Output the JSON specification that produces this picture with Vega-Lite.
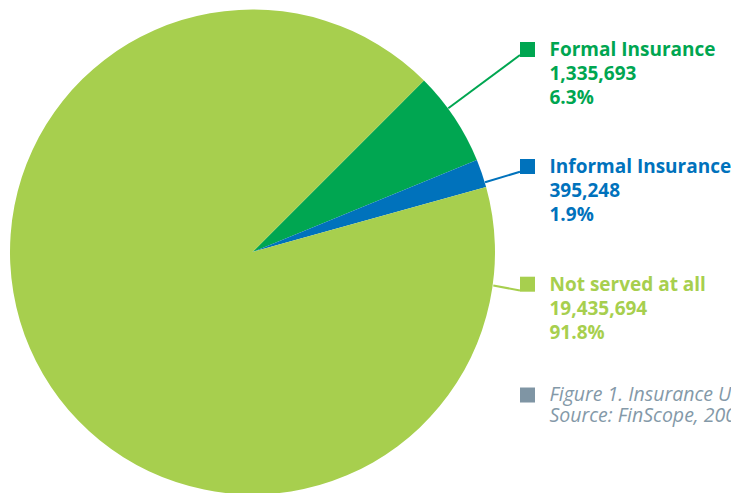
{
  "$schema": "https://vega.github.io/schema/vega-lite/v6.json",
  "width": 731,
  "height": 493,
  "autosize": {"type": "none"},
  "padding": 0,
  "background": "white",
  "config": {"view": {"stroke": null}},
  "datasets": {
    "slices": [
      {"category": "Formal Insurance", "count": 1335693, "share": 0.063},
      {"category": "Informal Insurance", "count": 395248, "share": 0.019},
      {"category": "Not served at all", "count": 19435694, "share": 0.918}
    ],
    "callouts": [
      {"category": "Formal Insurance", "count": 1335693, "share": 0.063, "edgeX": 0.8074, "edgeY": 0.5926, "tipX": 1.1031, "tipY": 0.8124, "keyX": 1.134, "keyY": 0.8351},
      {"category": "Informal Insurance", "count": 395248, "share": 0.019, "edgeX": 0.9588, "edgeY": 0.2874, "tipX": 1.1031, "tipY": 0.3311, "keyX": 1.134, "keyY": 0.3526},
      {"category": "Not served at all", "count": 19435694, "share": 0.918, "edgeX": 0.993, "edgeY": -0.1381, "tipX": 1.1031, "tipY": -0.1588, "keyX": 1.134, "keyY": -0.1328}
    ],
    "note": [
      {"caption": "Figure 1. Insurance Usage\nSource: FinScope, 2009", "keyX": 1.134, "keyY": -0.5897}
    ]
  },
  "encoding": {
    "x": {"type": "quantitative", "scale": {"domain": [-1.0412, 1.9732], "nice": false, "zero": false}, "axis": null},
    "y": {"type": "quantitative", "scale": {"domain": [-0.9938, 1.0392], "nice": false, "zero": false}, "axis": null}
  },
  "layer": [
    {
      "data": {"name": "slices"},
      "mark": {"type": "arc", "radius": 242.5},
      "encoding": {
        "x": {"datum": 0, "type": "quantitative"},
        "y": {"datum": 0, "type": "quantitative"},
        "theta": {"field": "count", "type": "quantitative", "stack": true, "scale": {"range": [0.7854, 7.0686]}},
        "color": {"field": "category", "type": "nominal", "scale": {"domain": ["Formal Insurance", "Informal Insurance", "Not served at all"], "range": ["#00a651", "#0072bc", "#a7cf4e"]}, "legend": null}
      }
    },
    {
      "data": {"name": "callouts"},
      "mark": {"type": "rule", "strokeWidth": 2},
      "encoding": {
        "x": {"field": "edgeX", "type": "quantitative"},
        "y": {"field": "edgeY", "type": "quantitative"},
        "x2": {"field": "tipX"},
        "y2": {"field": "tipY"},
        "color": {"field": "category", "type": "nominal", "legend": null}
      }
    },
    {
      "data": {"name": "callouts"},
      "mark": {"type": "point", "shape": "square", "filled": true, "size": 225, "opacity": 1},
      "encoding": {
        "x": {"field": "keyX", "type": "quantitative"},
        "y": {"field": "keyY", "type": "quantitative"},
        "color": {"field": "category", "type": "nominal", "legend": null}
      }
    },
    {
      "data": {"name": "callouts"},
      "mark": {"type": "text", "align": "left", "baseline": "alphabetic", "dx": 22, "dy": 7, "font": "Open Sans", "fontWeight": "bold", "fontSize": 19},
      "encoding": {
        "x": {"field": "keyX", "type": "quantitative"},
        "y": {"field": "keyY", "type": "quantitative"},
        "text": {"field": "category", "type": "nominal"},
        "color": {"field": "category", "type": "nominal", "legend": null}
      }
    },
    {
      "data": {"name": "callouts"},
      "mark": {"type": "text", "align": "left", "baseline": "alphabetic", "dx": 22, "dy": 31, "font": "Open Sans", "fontWeight": "bold", "fontSize": 19},
      "encoding": {
        "x": {"field": "keyX", "type": "quantitative"},
        "y": {"field": "keyY", "type": "quantitative"},
        "text": {"field": "count", "type": "quantitative", "format": ",d"},
        "color": {"field": "category", "type": "nominal", "legend": null}
      }
    },
    {
      "data": {"name": "callouts"},
      "mark": {"type": "text", "align": "left", "baseline": "alphabetic", "dx": 22, "dy": 55, "font": "Open Sans", "fontWeight": "bold", "fontSize": 19},
      "encoding": {
        "x": {"field": "keyX", "type": "quantitative"},
        "y": {"field": "keyY", "type": "quantitative"},
        "text": {"field": "share", "type": "quantitative", "format": ".1%"},
        "color": {"field": "category", "type": "nominal", "legend": null}
      }
    },
    {
      "data": {"name": "note"},
      "mark": {"type": "point", "shape": "square", "filled": true, "size": 225, "opacity": 1, "color": "#7f95a4"},
      "encoding": {
        "x": {"field": "keyX", "type": "quantitative"},
        "y": {"field": "keyY", "type": "quantitative"}
      }
    },
    {
      "data": {"name": "note"},
      "mark": {"type": "text", "align": "left", "baseline": "alphabetic", "dx": 22, "dy": 6, "font": "Open Sans", "fontStyle": "italic", "fontSize": 19.5, "lineBreak": "\n", "lineHeight": 21, "color": "#8499a8"},
      "encoding": {
        "x": {"field": "keyX", "type": "quantitative"},
        "y": {"field": "keyY", "type": "quantitative"},
        "text": {"field": "caption", "type": "nominal"}
      }
    }
  ]
}
